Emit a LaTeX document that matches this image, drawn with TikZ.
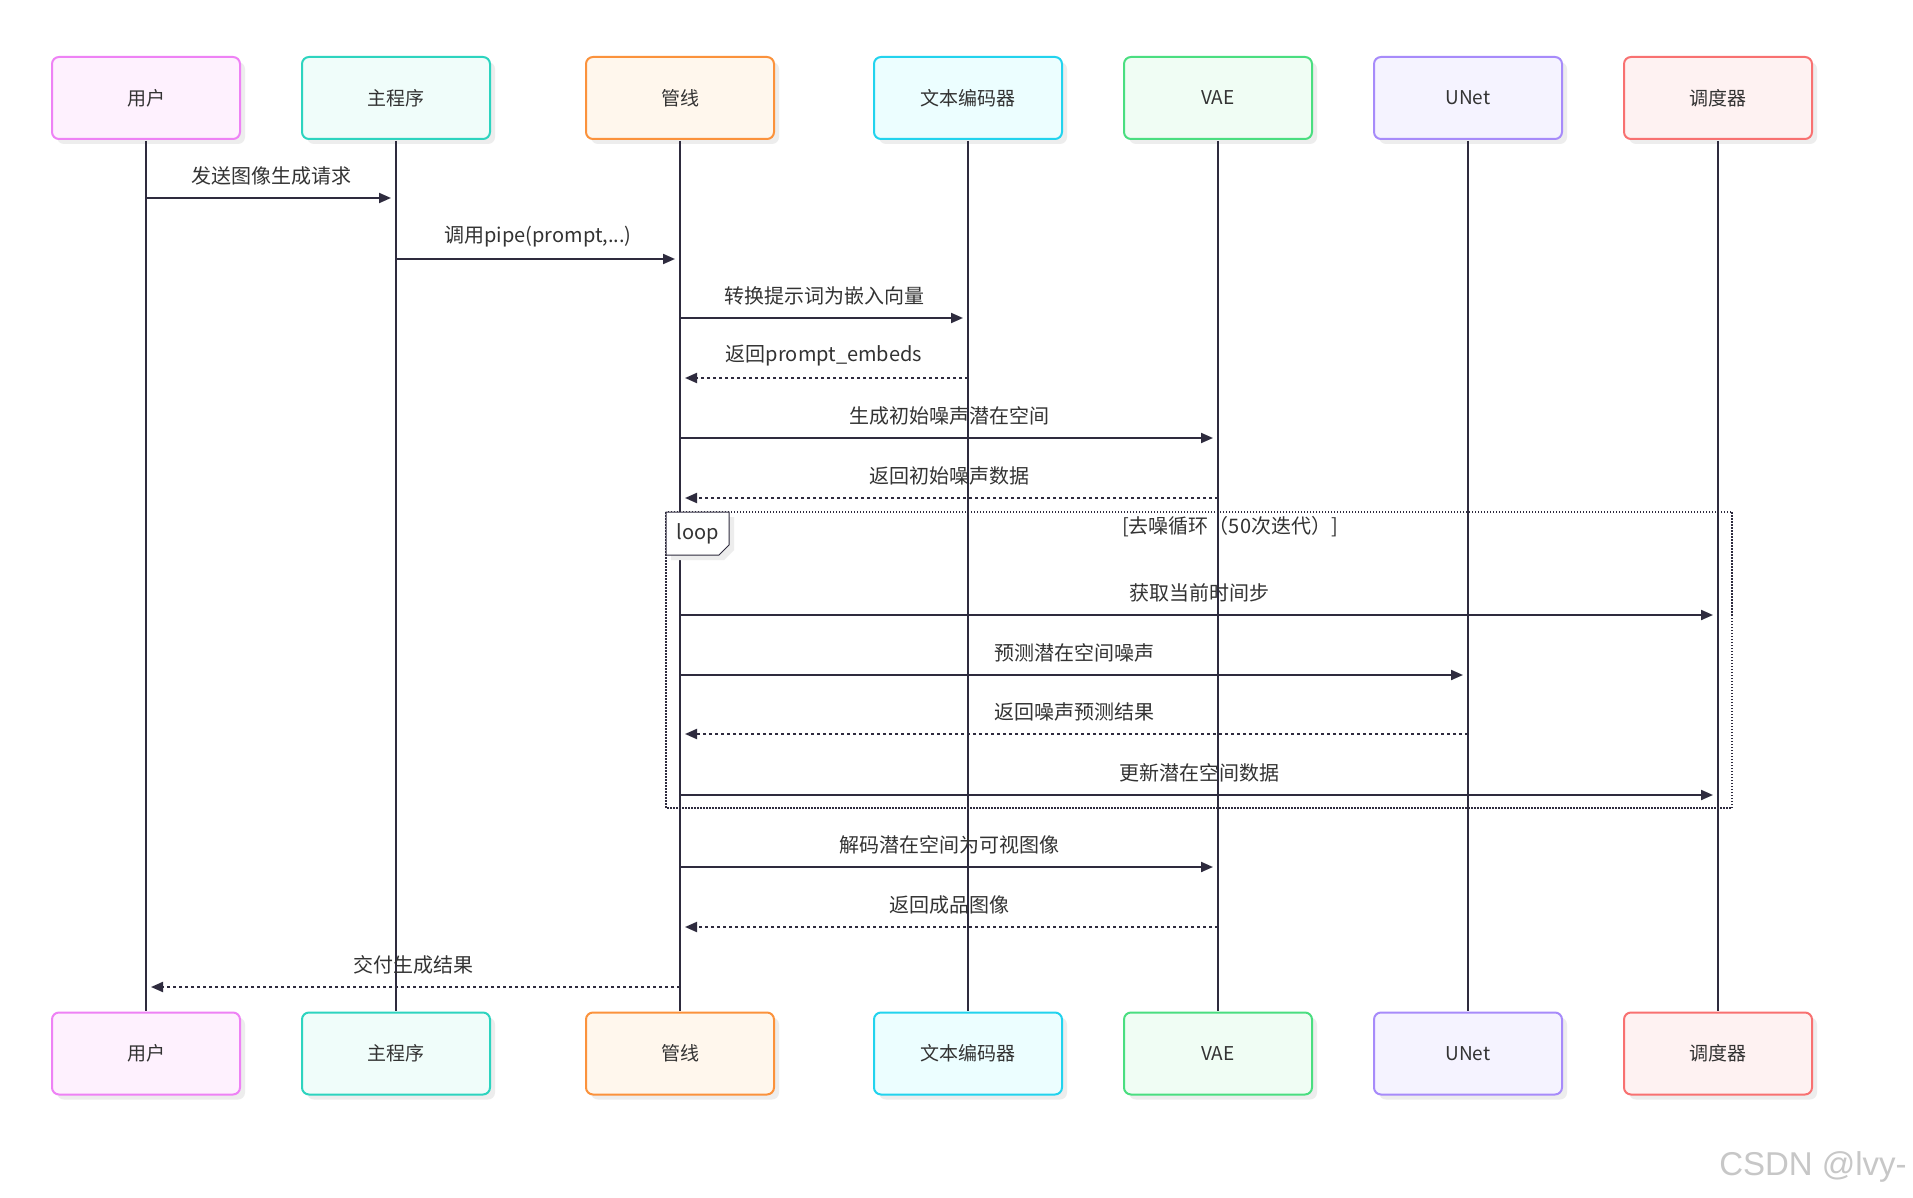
\documentclass[tikz,border=0pt]{standalone}
\usepackage{fontspec}
\setmainfont{Noto Sans CJK SC}
\newfontfamily\wmfont{Liberation Sans}
\usetikzlibrary{arrows.meta,shadows}
\definecolor{lc}{HTML}{2E2B3E}
\definecolor{txt}{HTML}{333333}
\definecolor{userS}{HTML}{EE82F5}\definecolor{userF}{HTML}{FEF1FE}
\definecolor{mainS}{HTML}{2DD4BF}\definecolor{mainF}{HTML}{F0FDFA}
\definecolor{pipeS}{HTML}{FB923C}\definecolor{pipeF}{HTML}{FFF7ED}
\definecolor{textS}{HTML}{22D3EE}\definecolor{textF}{HTML}{ECFEFF}
\definecolor{vaeS}{HTML}{4ADE80}\definecolor{vaeF}{HTML}{F0FDF4}
\definecolor{unetS}{HTML}{A78BFA}\definecolor{unetF}{HTML}{F5F3FF}
\definecolor{schS}{HTML}{F87171}\definecolor{schF}{HTML}{FEF2F2}
\tikzset{
  actor/.style={line width=2pt, rounded corners=7pt, minimum width=188pt, minimum height=82pt,
    inner sep=0pt, font=\fontsize{19}{22}\selectfont, text=txt,
    general shadow={fill=black!7, shadow xshift=5pt, shadow yshift=-5pt}},
  life/.style={draw=lc, line width=2pt},
  msg/.style={draw=lc, line width=2pt, -{Triangle[length=12pt,width=10pt]}, shorten >=5pt},
  ret/.style={msg, dash pattern=on 3pt off 3pt},
  lbl/.style={font=\fontsize{20}{24}\selectfont, text=txt, inner sep=0pt},
}
\begin{document}
\begin{tikzpicture}[x=1pt,y=-1pt]
\useasboundingbox[fill=white] (0,0) rectangle (1913,1198);
% top actors
\node[actor, draw=userS, fill=userF] (uT) at (146,98) {用户};
\node[actor, draw=mainS, fill=mainF] (mT) at (396,98) {主程序};
\node[actor, draw=pipeS, fill=pipeF] (pT) at (680,98) {管线};
\node[actor, draw=textS, fill=textF] (tT) at (968,98) {文本编码器};
\node[actor, draw=vaeS, fill=vaeF] (vT) at (1218,98) {VAE};
\node[actor, draw=unetS, fill=unetF] (nT) at (1468,98) {UNet};
\node[actor, draw=schS, fill=schF] (sT) at (1718,98) {调度器};
% bottom actors
\node[actor, draw=userS, fill=userF] (uB) at (146,1053.5) {用户};
\node[actor, draw=mainS, fill=mainF] (mB) at (396,1053.5) {主程序};
\node[actor, draw=pipeS, fill=pipeF] (pB) at (680,1053.5) {管线};
\node[actor, draw=textS, fill=textF] (tB) at (968,1053.5) {文本编码器};
\node[actor, draw=vaeS, fill=vaeF] (vB) at (1218,1053.5) {VAE};
\node[actor, draw=unetS, fill=unetF] (nB) at (1468,1053.5) {UNet};
\node[actor, draw=schS, fill=schF] (sB) at (1718,1053.5) {调度器};
% lifelines
\foreach \a in {u,m,p,t,v,n,s}{
  \draw[life] ([yshift=-1pt]\a T.south) -- ([yshift=1pt]\a B.north);
}
% loop frame
\draw[lc, line width=1.5pt, dash pattern=on 1.5pt off 1.5pt] (666,512) rectangle (1732,808);
\node[lbl] (looptitle) at (1230,527) {[去噪循环（50次迭代）]};
% message rows
\coordinate (y1) at (0,198);
\coordinate (y2) at (0,259);
\coordinate (y3) at (0,318);
\coordinate (y4) at (0,378);
\coordinate (y5) at (0,438);
\coordinate (y6) at (0,498);
\coordinate (y7) at (0,615);
\coordinate (y8) at (0,675);
\coordinate (y9) at (0,734);
\coordinate (y10) at (0,795);
\coordinate (y11) at (0,867);
\coordinate (y12) at (0,927);
\coordinate (y13) at (0,987);
\draw[msg] (uT |- y1) -- (mT |- y1) node[lbl,midway,yshift=22pt]{发送图像生成请求};
\draw[msg] (mT |- y2) -- (pT |- y2) node[lbl,midway,yshift=22pt]{调用pipe(prompt,...)};
\draw[msg] (pT |- y3) -- (tT |- y3) node[lbl,midway,yshift=22pt]{转换提示词为嵌入向量};
\draw[ret] (tT |- y4) -- (pT |- y4) node[lbl,midway,yshift=22pt]{返回prompt\_embeds};
\draw[msg] (pT |- y5) -- (vT |- y5) node[lbl,midway,yshift=22pt]{生成初始噪声潜在空间};
\draw[ret] (vT |- y6) -- (pT |- y6) node[lbl,midway,yshift=22pt]{返回初始噪声数据};
\draw[msg] (pT |- y7) -- (sT |- y7) node[lbl,midway,yshift=22pt]{获取当前时间步};
\draw[msg] (pT |- y8) -- (nT |- y8) node[lbl,midway,yshift=22pt]{预测潜在空间噪声};
\draw[ret] (nT |- y9) -- (pT |- y9) node[lbl,midway,yshift=22pt]{返回噪声预测结果};
\draw[msg] (pT |- y10) -- (sT |- y10) node[lbl,midway,yshift=22pt]{更新潜在空间数据};
\draw[msg] (pT |- y11) -- (vT |- y11) node[lbl,midway,yshift=22pt]{解码潜在空间为可视图像};
\draw[ret] (vT |- y12) -- (pT |- y12) node[lbl,midway,yshift=22pt]{返回成品图像};
\draw[ret] (pT |- y13) -- (uT |- y13) node[lbl,midway,yshift=22pt]{交付生成结果};
% loop label
\fill[black!7] (671,517) -- (734,517) -- (734,550) -- (724,560) -- (671,560) -- cycle;
\draw[lc, line width=1pt, fill=white] (666,512) -- (729,512) -- (729,545) -- (719,555) -- (666,555) -- cycle;
\node[lbl] (looplabel) at (697.5,534) {loop};
% watermark
\node[font=\wmfont\fontsize{33}{36}\selectfont, text=black!22] (wm) at (1813,1167) {CSDN @lvy-};
\end{tikzpicture}
\end{document}
